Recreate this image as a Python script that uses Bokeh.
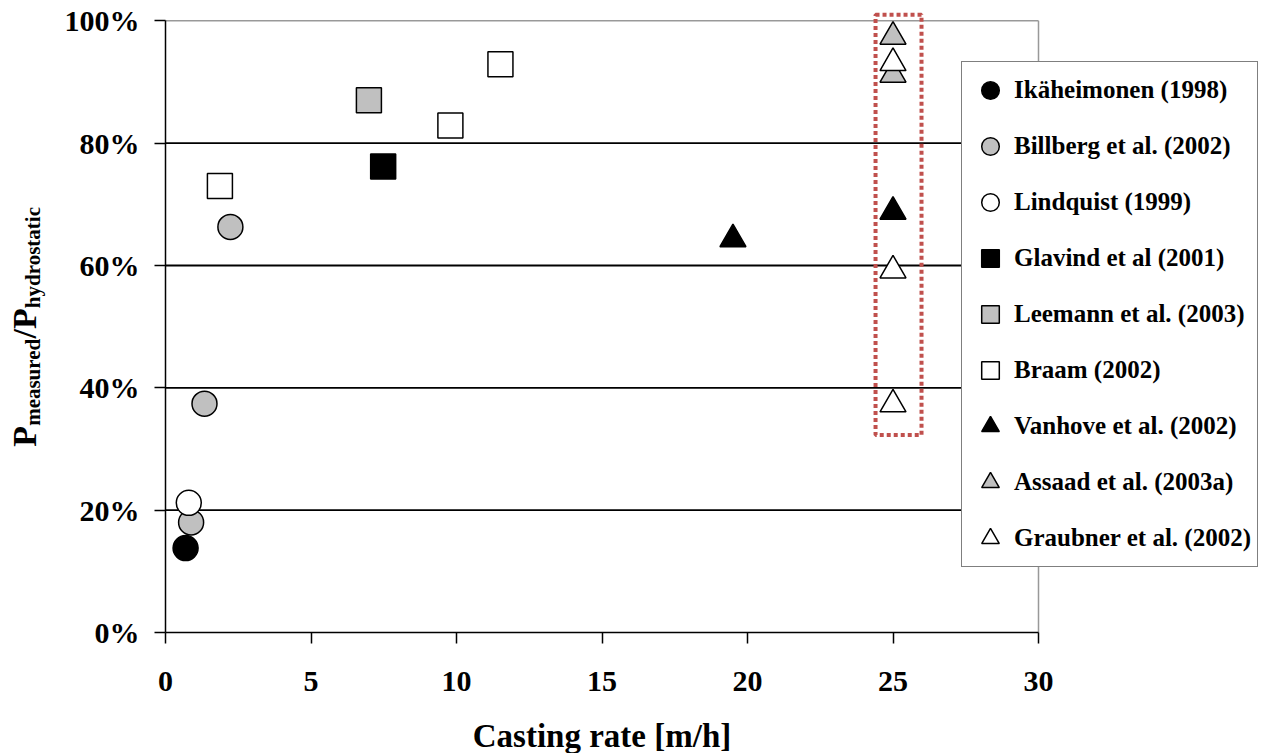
import math
from bokeh.plotting import figure
from bokeh.models import (Range1d, FixedTicker, NumeralTickFormatter, Legend,
                          LegendItem, Label, LinearAxis)
from bokeh.embed import file_html
from bokeh.resources import INLINE

# ---------------- data (casting rate [m/h], P_measured/P_hydrostatic) -------------
ika_x = [0.69]
ika_y = [0.138]
bil_x = [0.88, 1.34, 2.23]
bil_y = [0.180, 0.374, 0.663]
lin_x = [0.80]
lin_y = [0.212]
gla_x = [7.48]
gla_y = [0.762]
lee_x = [6.99]
lee_y = [0.870]
bra_x = [1.87, 9.79, 11.51]
bra_y = [0.730, 0.829, 0.929]
van_x = [19.5, 25.0]
van_y = [0.643, 0.688]
ass_x = [25.0, 25.0]
ass_y = [0.974, 0.912]
gra_x = [25.0, 25.0, 25.0]
gra_y = [0.931, 0.592, 0.373]

x_ticks = [0, 5, 10, 15, 20, 25, 30]
y_ticks = [0.0, 0.2, 0.4, 0.6, 0.8, 1.0]
grid_levels = [0.2, 0.4, 0.6, 0.8]

# highlighted region (dotted red box)
box_left, box_right, box_bottom, box_top = 24.4, 25.98, 0.323, 1.01

series = [
    ("Ikäheimonen (1998)", ika_x, ika_y, "circle", "#000000"),
    ("Billberg et al. (2002)", bil_x, bil_y, "circle", "#c0c0c0"),
    ("Lindquist (1999)", lin_x, lin_y, "circle", "#ffffff"),
    ("Glavind et al (2001)", gla_x, gla_y, "square", "#000000"),
    ("Leemann et al. (2003)", lee_x, lee_y, "square", "#c0c0c0"),
    ("Braam (2002)", bra_x, bra_y, "square", "#ffffff"),
    ("Vanhove et al. (2002)", van_x, van_y, "triangle", "#000000"),
    ("Assaad et al. (2003a)", ass_x, ass_y, "triangle", "#c0c0c0"),
    ("Graubner et al. (2002)", gra_x, gra_y, "triangle", "#ffffff"),
]

FONT = "Liberation Serif"

# layout: the plot frame covers the whole canvas; axes sit at fixed data locations
W, H = 1262, 753
ORIGIN_X, ORIGIN_Y = 165, 632          # pixel position of (0, 0%)
px_per_x = 29.1
px_per_y = 611.7
x_start = -ORIGIN_X / px_per_x
x_end = (W - ORIGIN_X) / px_per_x
y_start = -(H - ORIGIN_Y) / px_per_y
y_end = ORIGIN_Y / px_per_y

p = figure(width=W, height=H, output_backend="svg", toolbar_location=None,
           x_range=Range1d(x_start, x_end), y_range=Range1d(y_start, y_end),
           x_axis_location=None, y_axis_location=None,
           min_border=0, min_border_left=0, min_border_right=0,
           min_border_top=0, min_border_bottom=0)
p.title.visible = False
p.grid.visible = False
p.outline_line_color = None
p.background_fill_color = "white"
p.border_fill_color = "white"

xaxis = LinearAxis(fixed_location=0, bounds=(0, 30), ticker=FixedTicker(ticks=x_ticks))
yaxis = LinearAxis(fixed_location=0, bounds=(0, 1), ticker=FixedTicker(ticks=y_ticks),
                   formatter=NumeralTickFormatter(format="0%"))
for ax in (xaxis, yaxis):
    ax.axis_line_color = "black"
    ax.axis_line_width = 1.5
    ax.major_tick_line_color = "black"
    ax.major_tick_line_width = 1.5
    ax.major_tick_out = 11
    ax.major_tick_in = 0
    ax.minor_tick_line_color = None
    ax.major_label_text_font = FONT
    ax.major_label_text_font_style = "bold"
    ax.major_label_text_font_size = "30px"
    ax.major_label_text_color = "black"
xaxis.major_label_standoff = 28
yaxis.major_label_standoff = 15

# gridlines and frame borders
p.segment(x0=0, x1=30, y0=grid_levels, y1=grid_levels, line_color="black", line_width=1.8)
p.segment(x0=[0, 30], x1=[30, 30], y0=[1, 0], y1=[1, 1], line_color="#999999", line_width=1.5)

p.add_layout(xaxis, "below")
p.add_layout(yaxis, "left")

# data
items = []
for label, xs, ys, marker, fill in series:
    size = 26 if marker == "triangle" else 25
    r = p.scatter(xs, ys, marker=marker, size=size, fill_color=fill,
                  line_color="black", line_width=1.5)
    items.append(LegendItem(label=label, renderers=[r]))

# highlight box
p.quad(left=[box_left], right=[box_right], bottom=[box_bottom], top=[box_top],
       fill_color=None, line_color="#c0504d", line_width=4, line_dash="4 3")

legend = Legend(items=items, location=(961, 186),
                glyph_width=44, glyph_height=44, label_height=44, spacing=12,
                padding=6, margin=0, label_standoff=2,
                label_text_font=FONT, label_text_font_style="bold",
                label_text_font_size="25px", label_text_color="black",
                border_line_color="black", border_line_width=1.5,
                background_fill_color="white", background_fill_alpha=1.0)
p.add_layout(legend)

# x-axis title (centred on 0..30)
p.add_layout(Label(x=15, y=-(735 - ORIGIN_Y) / px_per_y, text="Casting rate [m/h]",
                   text_font=FONT, text_font_style="bold", text_font_size="33px",
                   text_color="black", text_align="center", text_baseline="alphabetic"))

# y-axis title with subscripts: P_measured / P_hydrostatic (rotated)
big, small = 34, 21
tnr_bold = {"P": .611, "/": .278, "m": .833, "e": .444, "a": .5, "s": .389, "u": .556,
            "r": .444, "d": .556, "h": .556, "y": .5, "o": .5, "t": .333, "i": .278, "c": .444}
parts = [("P", big, 0), ("measured", small, 8), ("/P", big, 0), ("hydrostatic", small, 8)]
def tw(s, f):
    return sum(tnr_bold[c] for c in s) * f
total = sum(tw(s, f) for s, f, _ in parts)
ypos = px_per_y * 0.5 - total / 2  # pixels above the x axis, centred on 0..100%
base_x = 24 - ORIGIN_X
for s, f, drop in parts:
    p.add_layout(Label(x=(base_x + drop) / px_per_x, y=ypos / px_per_y,
                       text=s, angle=math.pi / 2, text_font=FONT, text_font_style="bold",
                       text_font_size=f"{f}px", text_color="black",
                       text_align="left", text_baseline="alphabetic"))
    ypos += tw(s, f)

open("out.html", "w").write(file_html(p, INLINE))
